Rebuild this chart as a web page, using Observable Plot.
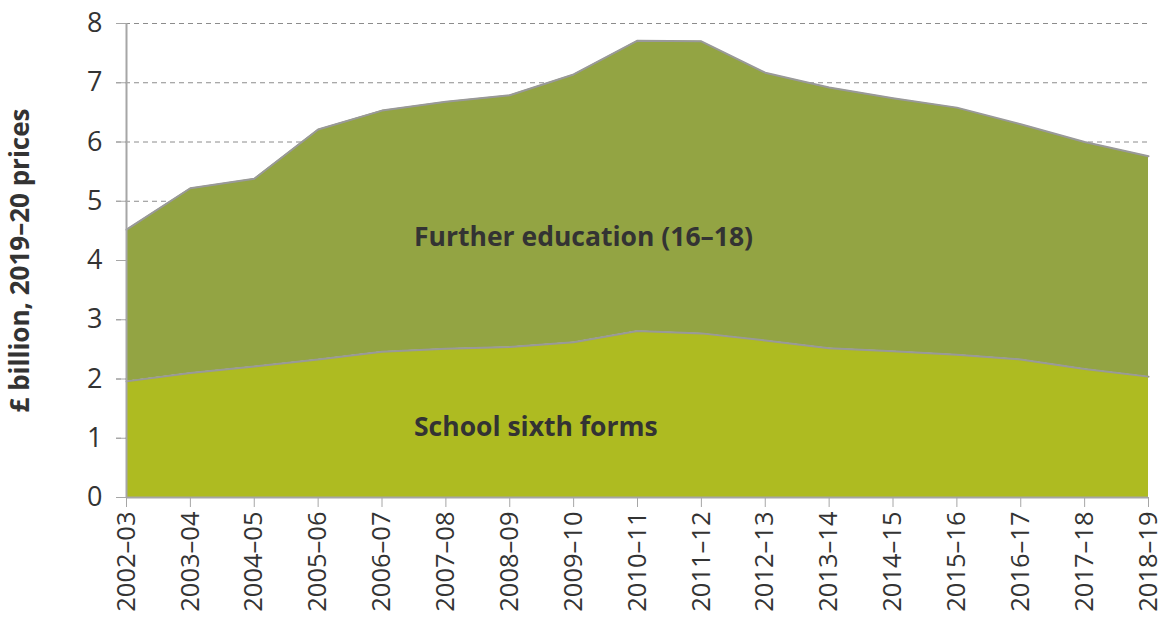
<!DOCTYPE html>
<html>
<head>
<meta charset="utf-8">
<script src="https://cdn.jsdelivr.net/npm/d3@7"></script>
<script src="https://cdn.jsdelivr.net/npm/@observablehq/plot@0.6"></script>
<style>
  html, body { margin: 0; padding: 0; background: #fff; overflow: hidden; }
  #chart svg { font-family: "Open Sans", sans-serif; display: block; }
</style>
</head>
<body>
<div id="chart"></div>
<script>
const years = ["2002–03","2003–04","2004–05","2005–06","2006–07","2007–08","2008–09","2009–10","2010–11","2011–12","2012–13","2013–14","2014–15","2015–16","2016–17","2017–18","2018–19"];
const schoolSixthForms = [1.96,2.10,2.21,2.33,2.46,2.51,2.54,2.62,2.81,2.77,2.65,2.52,2.47,2.41,2.33,2.17,2.04];
const totalFunding = [4.52,5.22,5.38,6.21,6.53,6.68,6.79,7.14,7.71,7.70,7.17,6.92,6.74,6.58,6.30,6.00,5.76];
const furtherEducation = totalFunding.map((t, i) => +(t - schoolSixthForms[i]).toFixed(2));
const seriesNames = ["School sixth forms", "Further education (16–18)"];
const seriesColors = ["#aebb21", "#93a443"];
const yTicks = [0,1,2,3,4,5,6,7,8];
const yLabel = "£ billion, 2019–20 prices";
const annotations = [
  {year: "2006–07", value: 4.39, text: "Further education (16–18)"},
  {year: "2006–07", value: 1.18, text: "School sixth forms"}
];

const data = [];
years.forEach((y, i) => {
  data.push({year: y, series: seriesNames[0], value: schoolSixthForms[i]});
  data.push({year: y, series: seriesNames[1], value: furtherEducation[i]});
});

const chart = Plot.plot({
  width: 1162,
  height: 618,
  marginLeft: 126,
  marginRight: 14,
  marginTop: 23,
  marginBottom: 121,
  style: {fontFamily: "Open Sans, sans-serif", background: "#fff"},
  x: {type: "point", domain: years, padding: 0, round: false, label: null},
  y: {domain: [0, 8], label: null},
  color: {domain: seriesNames, range: seriesColors},
  marks: [
    Plot.gridY(yTicks, {stroke: "#8c8c8c", strokeOpacity: 1, strokeDasharray: "5,4", strokeWidth: 1, insetLeft: -10}),
    Plot.areaY(data, {x: "year", y: "value", fill: "series", order: seriesNames}),
    Plot.lineY(data, Plot.stackY2({x: "year", y: "value", z: "series", order: seriesNames, stroke: "#999999", strokeWidth: 2})),
    Plot.ruleX([years[0]], {stroke: "#a6a6a6", strokeWidth: 2}),
    Plot.ruleY([0], {stroke: "#a6a6a6", strokeWidth: 2}),
    Plot.axisY(yTicks, {tickSize: 10, tickPadding: 14, tickFormat: "d", stroke: "#a6a6a6", fill: "#333", fontSize: 27, label: null}),
    Plot.axisX(years, {tickSize: 10, tickPadding: 4, tickRotate: -90, stroke: "#a6a6a6", fill: "#333", fontSize: 25.5, label: null}),
    Plot.text(annotations, {x: "year", y: "value", text: "text", textAnchor: "start", dx: 32, fontSize: 26.5, fontWeight: "bold", fill: "#333"}),
    Plot.text([yLabel], {frameAnchor: "left", text: d => d, rotate: -90, dx: -106, fontSize: 26, fontWeight: "bold", fill: "#333", textAnchor: "middle"})
  ]
});
document.getElementById("chart").appendChild(chart);
</script>
</body>
</html>
